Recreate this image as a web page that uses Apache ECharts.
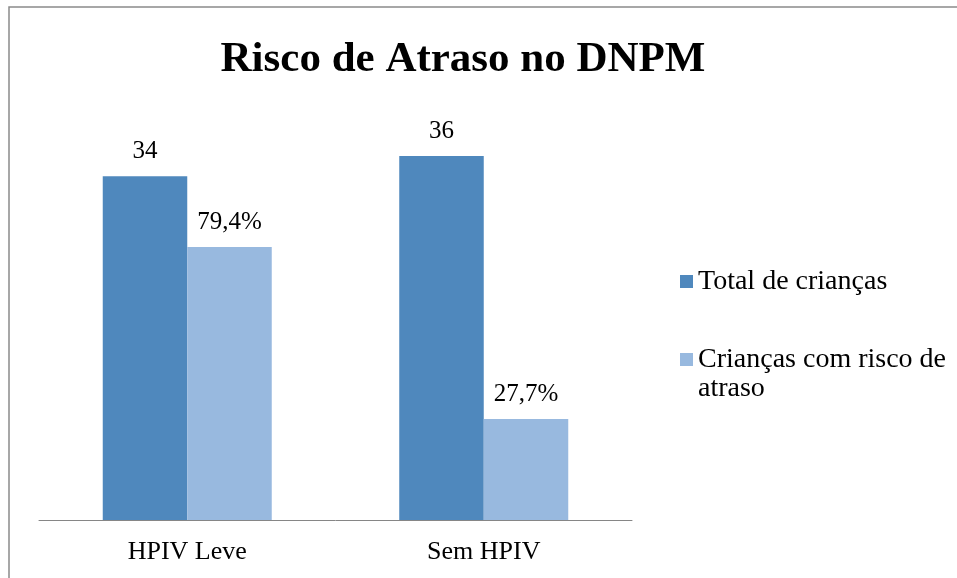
<!DOCTYPE html>
<html>
<head>
<meta charset="utf-8">
<script src="https://cdn.jsdelivr.net/npm/echarts@6/dist/echarts.min.js"></script>
<style>html,body{margin:0;padding:0;background:#fff}#c{width:957px;height:578px}</style>
</head>
<body>
<div id="c"></div>
<script>
const categories = ['HPIV Leve', 'Sem HPIV'];
const seriesNames = ['Total de crianças', 'Crianças com risco de atraso'];
const totalValues = [34, 36];
const riskValues = [27, 10];
const riskLabels = ['79,4%', '27,7%'];

const FONT = '"Liberation Serif", "Times New Roman", serif';
const chart = echarts.init(document.getElementById('c'), null, {renderer: 'canvas'});
chart.setOption({
  animation: false,
  backgroundColor: '#fff',
  title: {
    text: 'Risco de Atraso no DNPM',
    left: 458, top: 33, textAlign: 'center',
    textStyle: {fontFamily: FONT, fontWeight: 'bold', fontSize: 43, color: '#000'}
  },
  graphic: [{
    type: 'rect', silent: true,
    shape: {x: 9, y: 7, width: 1200, height: 1200},
    style: {fill: null, stroke: '#8a8a8a', lineWidth: 1.5}
  }],
  legend: [{
    data: [seriesNames[0]],
    left: 675, top: 262, orient: 'vertical',
    itemWidth: 13, itemHeight: 13, itemGap: 0,
    icon: 'rect',
    textStyle: {fontFamily: FONT, fontSize: 28, color: '#000', lineHeight: 29}
  }, {
    data: [seriesNames[1]],
    left: 675, top: 340, orient: 'vertical',
    itemWidth: 13, itemHeight: 42, itemGap: 0,
    icon: 'path://M0,0L13,0L13,13L0,13Z M0,42L13,42',
    formatter: function (n) { return 'Crianças com risco de\natraso'; },
    textStyle: {fontFamily: FONT, fontSize: 28, color: '#000', lineHeight: 29}
  }],
  grid: {left: 39, right: 325, top: 115.5, bottom: 58, containLabel: false},
  xAxis: {
    type: 'category', data: categories,
    axisLine: {lineStyle: {color: '#868686', width: 1}},
    axisTick: {show: false},
    axisLabel: {fontFamily: FONT, fontSize: 26, color: '#000', margin: 19}
  },
  yAxis: {
    type: 'value', min: 0, max: 40, interval: 10,
    show: false, splitLine: {show: false}
  },
  series: [{
    name: seriesNames[0], type: 'bar', data: totalValues,
    barGap: '0%', barCategoryGap: '43%',
    itemStyle: {color: '#4F88BD'},
    label: {show: true, position: 'top', distance: 12, fontFamily: FONT, fontSize: 25, color: '#000'}
  }, {
    name: seriesNames[1], type: 'bar', data: riskValues,
    itemStyle: {color: '#98B9DF'},
    label: {show: true, position: 'top', distance: 12, fontFamily: FONT, fontSize: 25, color: '#000',
      formatter: function (p) { return riskLabels[p.dataIndex]; }}
  }]
});
</script>
</body>
</html>
